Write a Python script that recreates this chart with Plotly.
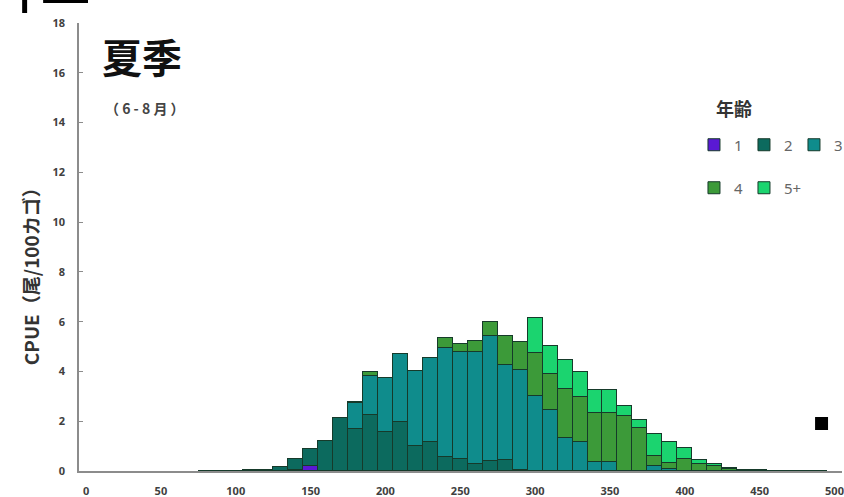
import plotly.graph_objects as go

# Body length classes (mm), 10 mm bins
length_mm = [80, 90, 100, 110, 120, 130, 140, 150, 160, 170, 180, 190, 200, 210,
             220, 230, 240, 250, 260, 270, 280, 290, 300, 310, 320, 330, 340,
             350, 360, 370, 380, 390, 400, 410, 420, 430, 440, 450, 460, 470,
             480, 490]

# CPUE (fish per 100 traps) by age group
age1 = [0, 0, 0, 0, 0, 0, 0.05, 0.22, 0, 0, 0, 0, 0, 0,
        0, 0, 0, 0, 0, 0, 0, 0, 0, 0, 0, 0, 0,
        0, 0, 0, 0, 0, 0, 0, 0, 0, 0, 0, 0, 0,
        0, 0]
age2 = [0.01, 0.01, 0.02, 0.03, 0.05, 0.15, 0.45, 0.66, 1.21, 2.13, 1.67, 2.27, 1.55, 1.97,
        1.00, 1.15, 0.57, 0.50, 0.30, 0.41, 0.44, 0.05, 0, 0, 0, 0, 0,
        0, 0, 0, 0, 0, 0, 0, 0, 0, 0, 0, 0, 0,
        0, 0]
age3 = [0, 0, 0, 0, 0, 0, 0, 0, 0, 0, 1.05, 1.53, 2.17, 2.74,
        3.00, 3.40, 4.36, 4.30, 4.47, 5.03, 3.83, 4.02, 3.00, 2.44, 1.32, 1.16, 0.37,
        0.37, 0, 0, 0.20, 0.10, 0, 0, 0, 0, 0, 0, 0, 0,
        0, 0]
age4 = [0, 0, 0, 0, 0, 0, 0, 0, 0, 0, 0.05, 0.17, 0, 0,
        0, 0, 0.40, 0.30, 0.47, 0.53, 1.17, 1.10, 1.73, 1.44, 1.99, 1.81, 1.96,
        1.96, 2.20, 1.71, 0.40, 0.23, 0.50, 0.30, 0.20, 0.10, 0.05, 0.03, 0.02, 0.02,
        0.01, 0.01]
age5p = [0, 0, 0, 0, 0, 0, 0, 0, 0, 0, 0, 0, 0, 0,
         0, 0, 0, 0, 0, 0, 0, 0, 1.42, 1.16, 1.16, 1.00, 0.91,
         0.91, 0.40, 0.33, 0.88, 0.84, 0.43, 0.14, 0.08, 0.03, 0, 0, 0, 0,
         0, 0]

age_names = ["1", "2", "3", "4", "5+"]
age_series = [age1, age2, age3, age4, age5p]
age_colors = ["#5a19d4", "#0c6a5e", "#0f8c8c", "#3c9a39", "#1bd46f"]
age_legends = ["legend", "legend", "legend", "legend2", "legend2"]

x_ticks = [0, 50, 100, 150, 200, 250, 300, 350, 400, 450, 500]
y_ticks = [0, 2, 4, 6, 8, 10, 12, 14, 16, 18]

fig = go.Figure()
for name, vals, col, lg in zip(age_names, age_series, age_colors, age_legends):
    fig.add_trace(go.Bar(
        x=length_mm, y=vals, name=name, width=10,
        marker=dict(color=col, line=dict(color="#163a2a", width=1)),
        legend=lg,
        legendwidth=24 if name == "5+" else None,
    ))

tick_font = dict(family="Noto Sans", size=11, color="#404040", weight="bold")
cjk = "Noto Sans CJK JP"
legend_font = dict(family="Noto Sans", size=15, color="#666666")

fig.update_layout(
    width=844, height=497,
    template="none",
    barmode="stack", bargap=0,
    paper_bgcolor="white", plot_bgcolor="white",
    margin=dict(l=79, r=0, t=23, b=26),
    showlegend=True,
    legend=dict(orientation="h", x=0.806, y=0.7277, xanchor="left", yanchor="middle",
                font=legend_font, entrywidth=5, traceorder="normal",
                bgcolor="rgba(0,0,0,0)"),
    legend2=dict(orientation="h", x=0.806, y=0.6317, xanchor="left", yanchor="middle",
                 font=legend_font, entrywidth=5, traceorder="normal",
                 bgcolor="rgba(0,0,0,0)"),
    xaxis=dict(range=[-4.7, 505], tickvals=x_ticks, ticktext=[str(v) for v in x_ticks],
               showgrid=False, zeroline=False, showline=True, linecolor="#8c8c8c",
               linewidth=2, ticks="", tickfont=tick_font, automargin=False,
               ticklabelstandoff=9, ticklabeloverflow="allow"),
    yaxis=dict(range=[0, 18], tickvals=y_ticks, ticktext=[str(v) for v in y_ticks],
               showgrid=False, zeroline=False, showline=True, linecolor="#8c8c8c",
               linewidth=1.5, ticks="inside", ticklen=4, tickcolor="#8c8c8c",
               tickfont=tick_font, automargin=False, ticklabelstandoff=10),
)

# Vertical axis caption
fig.add_annotation(x=-0.064, y=0.444, xref="paper", yref="paper", showarrow=False,
                   text="CPUE（尾/100カゴ）", textangle=-90,
                   xanchor="center", yanchor="middle",
                   font=dict(family=cjk, size=19, color="#333333", weight="bold"))

# Season heading and period note
fig.add_annotation(x=0.0824, y=0.926, xref="paper", yref="paper", showarrow=False,
                   text="夏季", xanchor="center", yanchor="middle",
                   font=dict(family=cjk, size=40, color="#111111", weight="bold"))
fig.add_annotation(x=0.0863, y=0.810, xref="paper", yref="paper", showarrow=False,
                   text="（ 6 - 8 月 ）", xanchor="center", yanchor="middle",
                   font=dict(family=cjk, size=14, color="#444444", weight="bold"))
# Legend heading
fig.add_annotation(x=0.858, y=0.810, xref="paper", yref="paper", showarrow=False,
                   text="年齢", xanchor="center", yanchor="middle",
                   font=dict(family=cjk, size=18, color="#333333", weight="bold"))

# Black marker pieces
fig.add_shape(type="rect", xref="paper", yref="paper", x0=0.9647, x1=0.9817,
              y0=0.0915, y1=0.1205, fillcolor="black", line=dict(width=0))
fig.add_shape(type="rect", xref="paper", yref="paper", x0=-0.0745, x1=-0.068,
              y0=1.0223, y1=1.06, fillcolor="black", line=dict(width=0))
fig.add_shape(type="rect", xref="paper", yref="paper", x0=-0.047, x1=0.0118,
              y0=1.0446, y1=1.06, fillcolor="black", line=dict(width=0))

fig.write_html("out.html")
